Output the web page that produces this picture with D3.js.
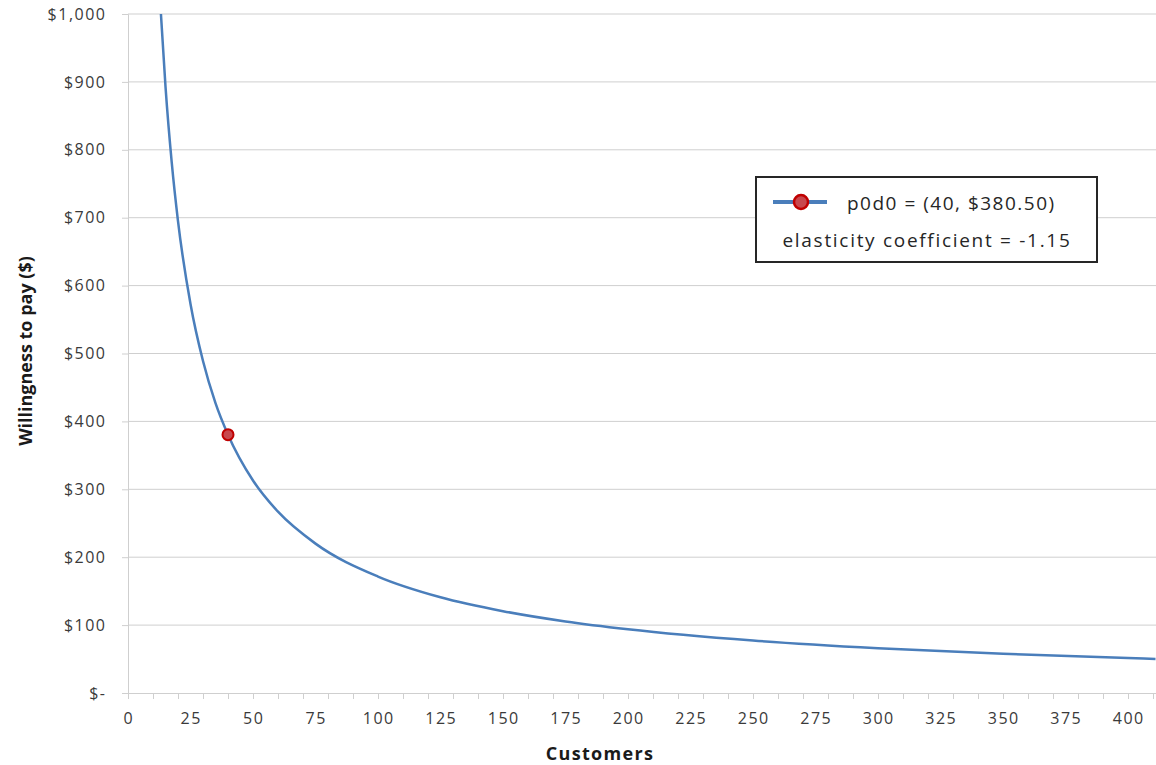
<!DOCTYPE html>
<html>
<head>
<meta charset="utf-8">
<script src="https://cdn.jsdelivr.net/npm/d3@7"></script>
<style>
  body { margin: 0; background: #fff; }
  text { font-family: "Open Sans", sans-serif; }
</style>
</head>
<body>
<div id="my_dataviz"></div>
<script>
// demand curve (customers -> willingness to pay)
var customers = [13, 15, 17.5, 20, 25, 30, 35, 40, 50, 60, 75, 100, 125, 150, 175, 200, 250, 300, 350, 400, 411];
var wtp       = [1010, 893, 781, 695, 573, 489, 427, 380.5, 313, 267, 220, 171.5, 141, 120.5, 105.4, 93.9, 77.3, 66, 57.7, 51.4, 50.2];

// highlighted point p0d0
var pointX = [40];
var pointY = [380.5];

var yTicks = [0, 100, 200, 300, 400, 500, 600, 700, 800, 900, 1000];
var xLabels = [0, 25, 50, 75, 100, 125, 150, 175, 200, 225, 250, 275, 300, 325, 350, 375, 400];
var xMinorTicks = d3.range(0, 411, 10);

var legendLines = ["p0d0 = (40, $380.50)", "elasticity coefficient = -1.15"];

// set the dimensions and margins of the graph
var margin = {top: 14, right: 0, bottom: 72, left: 128},
    width = 1156 - margin.left - margin.right,
    height = 765 - margin.top - margin.bottom;

var svg = d3.select("#my_dataviz")
  .append("svg")
    .attr("width", 1156)
    .attr("height", 765)
  .append("g")
    .attr("transform", "translate(" + margin.left + "," + margin.top + ")");

var x = d3.scaleLinear()
  .domain([0, width / 2.5])
  .range([0, width]);

var y = d3.scaleLinear()
  .domain([0, 1000])
  .range([height, 0]);

var fmt = function(v) { return v === 0 ? "$-" : "$" + d3.format(",")(v); };

// horizontal gridlines
svg.append("g")
  .selectAll("line")
  .data(yTicks.filter(function(d) { return d > 0; }))
  .enter().append("line")
    .attr("x1", 0)
    .attr("x2", width)
    .attr("y1", function(d) { return y(d); })
    .attr("y2", function(d) { return y(d); })
    .attr("stroke", "#cfcfcf")
    .attr("stroke-width", 1);

// Y axis
var yAxis = svg.append("g")
  .call(d3.axisLeft(y).tickValues(yTicks).tickFormat(fmt).tickSize(6).tickPadding(15.5));
yAxis.select(".domain").attr("stroke", "#cfcfcf");
yAxis.selectAll(".tick line").attr("stroke", "#cfcfcf");
yAxis.selectAll("text")
  .attr("fill", "#3a3a3a")
  .style("font-size", "16px")
  .style("letter-spacing", "1.5px");

// X axis: ticks every 10, labels every 25
var xAxis = svg.append("g")
  .attr("transform", "translate(0," + height + ")")
  .call(d3.axisBottom(x).tickValues(xMinorTicks).tickFormat("").tickSize(6));
xAxis.select(".domain").attr("stroke", "#cfcfcf");
xAxis.selectAll(".tick line").attr("stroke", "#cfcfcf");

svg.append("g")
  .attr("transform", "translate(0," + height + ")")
  .selectAll("text")
  .data(xLabels)
  .enter().append("text")
    .attr("x", function(d) { return x(d) + 0.75; })
    .attr("y", 31)
    .attr("text-anchor", "middle")
    .attr("fill", "#3a3a3a")
    .style("font-size", "16px")
    .style("letter-spacing", "1.5px")
    .text(function(d) { return d; });

// axis titles
svg.append("text")
  .attr("x", 600 - margin.left)
  .attr("y", 760 - margin.top)
  .attr("text-anchor", "middle")
  .style("font-size", "18px")
  .style("font-weight", "bold")
  .style("letter-spacing", "1.3px")
  .attr("fill", "#1a1a1a")
  .text("Customers");

svg.append("text")
  .attr("transform", "translate(" + (32 - margin.left) + "," + (351 - margin.top) + ") rotate(-90)")
  .attr("text-anchor", "middle")
  .style("font-size", "18px")
  .style("font-weight", "bold")
  .attr("fill", "#1a1a1a")
  .text("Willingness to pay ($)");

// clip the curve to the plot area
svg.append("clipPath")
  .attr("id", "plotclip")
  .append("rect")
    .attr("x", 0).attr("y", 0)
    .attr("width", width).attr("height", height);

var data = customers.map(function(c, i) { return {c: c, p: wtp[i]}; });

svg.append("path")
  .datum(data)
  .attr("clip-path", "url(#plotclip)")
  .attr("fill", "none")
  .attr("stroke", "#4a7ebb")
  .attr("stroke-width", 2.5)
  .attr("d", d3.line()
    .curve(d3.curveMonotoneX)
    .x(function(d) { return x(d.c); })
    .y(function(d) { return y(d.p); })
  );

// the p0d0 marker
svg.selectAll(".pt")
  .data(pointX)
  .enter().append("circle")
    .attr("class", "pt")
    .attr("cx", function(d) { return x(d); })
    .attr("cy", function(d, i) { return y(pointY[i]); })
    .attr("r", 5.5)
    .attr("fill", "#c8484e")
    .attr("stroke", "#c00000")
    .attr("stroke-width", 2);

// legend box
var lg = svg.append("g")
  .attr("transform", "translate(" + (756 - margin.left) + "," + (177 - margin.top) + ")");

lg.append("rect")
  .attr("width", 341)
  .attr("height", 85)
  .attr("fill", "#fff")
  .attr("stroke", "#262626")
  .attr("stroke-width", 2);

lg.append("line")
  .attr("x1", 17).attr("x2", 71)
  .attr("y1", 25).attr("y2", 25)
  .attr("stroke", "#4a7ebb")
  .attr("stroke-width", 4);

lg.append("circle")
  .attr("cx", 45).attr("cy", 25)
  .attr("r", 7)
  .attr("fill", "#c8484e")
  .attr("stroke", "#c00000")
  .attr("stroke-width", 2.5);

lg.append("text")
  .attr("x", 91).attr("y", 33)
  .style("font-size", "19px")
  .style("letter-spacing", "1.5px")
  .attr("fill", "#262626")
  .text(legendLines[0]);

lg.append("text")
  .attr("x", 171).attr("y", 70)
  .attr("text-anchor", "middle")
  .style("font-size", "19px")
  .style("letter-spacing", "1.7px")
  .attr("fill", "#262626")
  .text(legendLines[1]);
</script>
</body>
</html>
